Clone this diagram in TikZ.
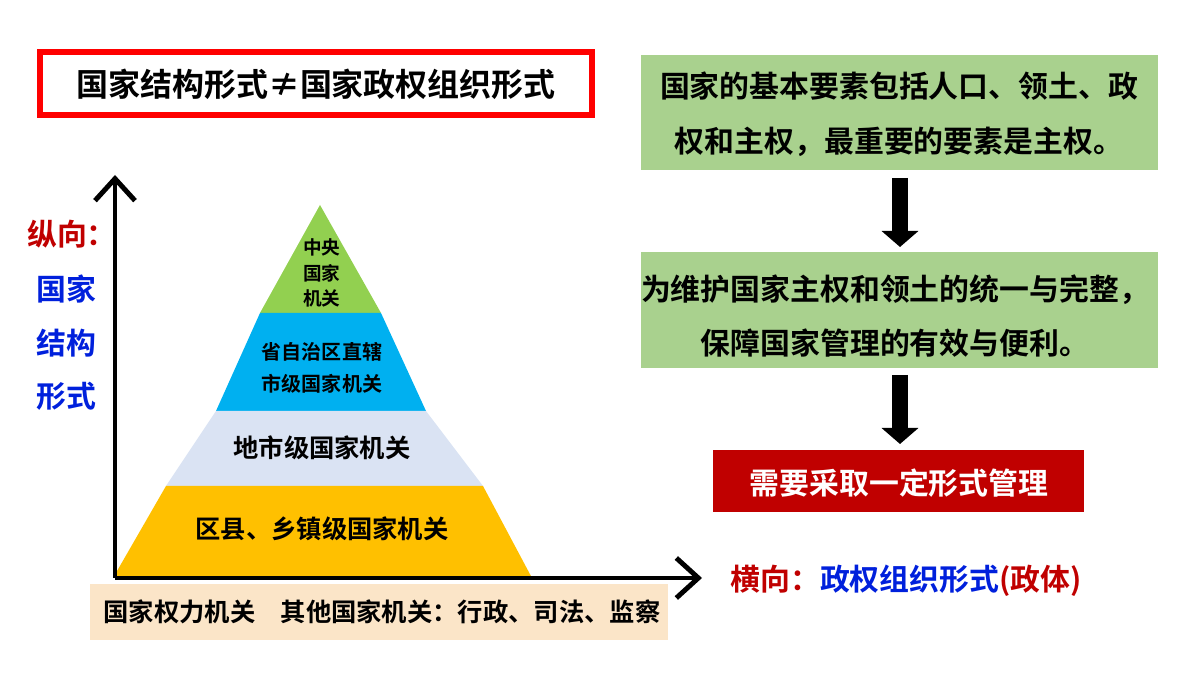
\documentclass[tikz,border=0pt]{standalone}
\usepackage{fontspec}
\setmainfont{Noto Sans CJK SC Bold}
\usetikzlibrary{arrows.meta}
\definecolor{lgreen}{RGB}{169,209,142}
\definecolor{dred}{RGB}{192,0,0}
\definecolor{tblue}{RGB}{0,32,220}
\definecolor{ygreen}{RGB}{146,208,80}
\definecolor{sky}{RGB}{0,176,240}
\definecolor{lgray}{RGB}{218,227,243}
\definecolor{gold}{RGB}{255,192,0}
\definecolor{beige}{RGB}{251,229,200}
\tikzset{big/.style={font=\fontsize{8.5}{15.6}\selectfont},
 mid/.style={font=\fontsize{7.2}{9.6}\selectfont},
 down/.style={-{Triangle[length=1.6mm,width=3.6mm]},line width=1.6mm}}
\begin{document}
\begin{tikzpicture}
 \useasboundingbox (0,0) rectangle (12,6.75);
 \draw[red,line width=1.6pt] (0.40,5.60) rectangle (5.92,6.23);
 \node[font=\fontsize{9.1}{11}\selectfont] (title) at (3.16,5.91) {国家结构形式≠国家政权组织形式};

 \fill[lgreen] (6.41,5.05) rectangle (11.58,6.20);
 \node[big,align=center] (basic) at (8.99,5.61) {国家的基本要素包括人口、领土、政\\权和主权，最重要的要素是主权。};
 \fill[lgreen] (6.41,3.07) rectangle (11.58,4.23);
 \node[big,align=center] (keep) at (8.95,3.59) {为维护国家主权和领土的统一与完整，\\保障国家管理的有效与便利。};
 \fill[dred] (7.13,1.63) rectangle (10.84,2.25);
 \node[big,white] (need) at (8.99,1.92) {需要采取一定形式管理};
 \draw[down] (9.00,4.97)--(9.00,4.28);
 \draw[down] (9.00,3.00)--(9.00,2.31);

 \fill[ygreen] (3.20,4.70)--(2.60,3.62)--(3.81,3.62)--cycle;
 \fill[sky] (2.60,3.62)--(2.16,2.64)--(4.26,2.64)--(3.81,3.62)--cycle;
 \fill[lgray] (2.16,2.64)--(1.66,1.89)--(4.83,1.89)--(4.26,2.64)--cycle;
 \fill[gold] (1.66,1.89)--(1.13,0.97)--(5.32,0.97)--(4.83,1.89)--cycle;
 \node[font=\fontsize{5.3}{7.2}\selectfont,align=center] (top) at (3.22,4.02) {中央\\国家\\机关};
 \node[font=\fontsize{5.7}{9}\selectfont,align=center] (prov) at (3.22,3.07) {省自治区直辖\\市级国家机关};
 \node[mid] (city) at (3.22,2.27) {地市级国家机关};
 \node[mid] (county) at (3.22,1.46) {区县、乡镇级国家机关};

 \fill[beige] (0.90,0.35) rectangle (6.68,0.91);
 \node[mid] (organ) at (3.82,0.63) {国家权力机关\quad 其他国家机关：行政、司法、监察};

 \coordinate (o) at (1.15,0.97);
 \coordinate (ytop) at (1.15,5.00);
 \coordinate (xend) at (7.02,0.97);
 \draw[line width=1.4pt,-{Straight Barb[length=2.2mm,width=4mm]}] (o)--(ytop);
 \draw[line width=1.4pt,-{Straight Barb[length=2.2mm,width=4mm]}] (o)--(xend);

 \node[big,dred] (vert) at (0.72,4.41) {纵向：};
 \node[big,tblue] (v1) at (0.66,3.86) {国家};
 \node[big,tblue] (v2) at (0.66,3.32) {结构};
 \node[big,tblue] (v3) at (0.66,2.79) {形式};
 \node[big] (horiz) at (9.06,0.94) {\textcolor{dred}{横向：}\textcolor{tblue}{政权组织形式}\textcolor{dred}{(政体)}};
\end{tikzpicture}
\end{document}
